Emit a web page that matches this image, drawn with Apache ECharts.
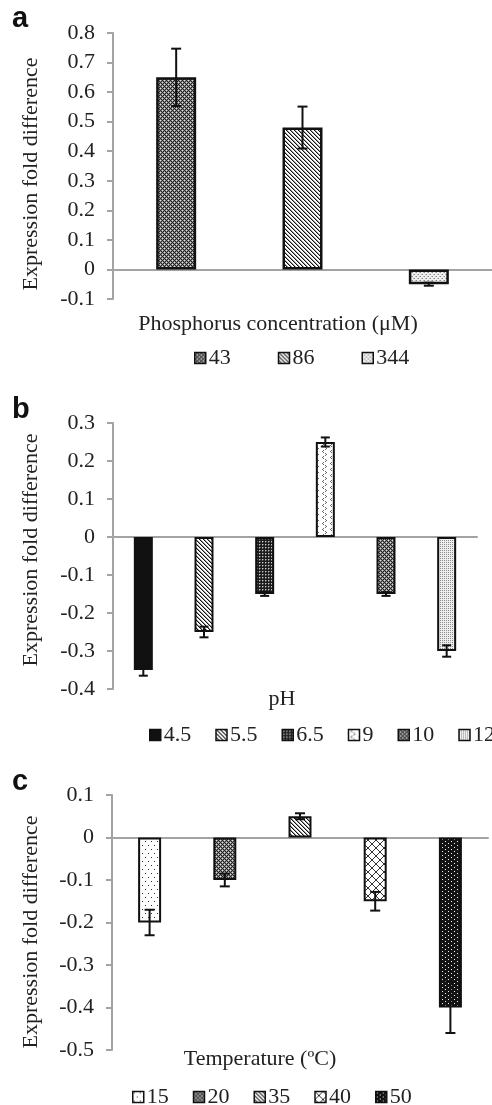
<!DOCTYPE html>
<html>
<head>
<meta charset="utf-8">
<script src="https://cdn.jsdelivr.net/npm/echarts@6/dist/echarts.min.js"></script>
<style>
  html, body { margin: 0; padding: 0; background: #fff; }
  #chart { width: 492px; height: 1105px; }
</style>
</head>
<body>
<div id="chart"></div>
<script>
// panel a: phosphorus
const phosCats = ['43', '86', '344'];
const phosVals = [0.65, 0.48, -0.05];
const phosErr = [0.097, 0.071, 0.005];
const phosTicks = { min: -0.1, max: 0.8, step: 0.1 };

// panel b: pH
const phCats = ['4.5', '5.5', '6.5', '9', '10', '12'];
const phVals = [-0.35, -0.25, -0.15, 0.25, -0.15, -0.30];
const phErr = [0.015, 0.014, 0.005, 0.012, 0.005, 0.015];
const phTicks = { min: -0.4, max: 0.3, step: 0.1 };

// panel c: temperature
const tempCats = ['15', '20', '35', '40', '50'];
const tempVals = [-0.2, -0.1, 0.05, -0.15, -0.4];
const tempErr = [0.03, 0.015, 0.007, 0.022, 0.06];
const tempTicks = { min: -0.5, max: 0.1, step: 0.1 };

const SERIF = '"Liberation Serif", "Times New Roman", serif';
const SANS = '"Liberation Sans", Arial, sans-serif';
const AXIS_GRAY = '#a3a3a3';
const TXT = '#222';

// little pixel patterns, like the excel fills
function pattern(w, h, bg, pts) {
  const c = document.createElement('canvas');
  c.width = w; c.height = h;
  const ctx = c.getContext('2d');
  ctx.fillStyle = bg;
  ctx.fillRect(0, 0, w, h);
  pts.forEach(([x, y, col]) => { ctx.fillStyle = col; ctx.fillRect(x, y, 1, 1); });
  return { image: c, repeat: 'repeat' };
}

const fills = {
  checker: pattern(4, 4, '#222', [
    [1, 0, '#888'], [3, 0, '#888'], [0, 1, '#888'], [2, 1, '#888'],
    [1, 2, '#888'], [3, 2, '#888'], [0, 3, '#888'], [2, 3, '#888'],
    [0, 0, '#ddd'], [2, 2, '#ddd']
  ]),
  diag: pattern(4, 4, '#fff', [
    [0, 0, '#111'], [1, 1, '#111'], [2, 2, '#111'], [3, 3, '#111'],
    [1, 0, '#999'], [2, 1, '#999'], [3, 2, '#999'], [0, 3, '#999']
  ]),
  lightDots: pattern(4, 4, '#eee', [[0, 0, '#888'], [2, 2, '#888'], [3, 0, '#bbb'], [1, 2, '#bbb']]),
  solid: '#111',
  darkGrid: pattern(3, 3, '#1c1c1c', [[1, 1, '#c8c8c8'], [2, 1, '#666'], [1, 2, '#666']]),
  zigzag: pattern(8, 6, '#fff', [[3, 0, '#666'], [2, 1, '#666'], [3, 2, '#666'], [5, 3, '#666'], [6, 4, '#666'], [5, 5, '#666']]),
  fineDots: pattern(2, 2, '#eeeeee', [[0, 0, '#8a8a8a']]),
  sparseDots: pattern(6, 8, '#fff', [[1, 1, '#333'], [4, 5, '#333']]),
  diamonds: (function () {
    const pts = [];
    for (let i = 0; i < 8; i++) { pts.push([i, i, '#333']); pts.push([7 - i, i, '#333']); }
    return pattern(8, 8, '#fff', pts);
  })(),
  blackDots: pattern(6, 4, '#141414', [[1, 1, '#eee'], [4, 3, '#eee']])
};

const phosFills = [fills.checker, fills.diag, fills.lightDots];
const phFills = [fills.solid, fills.diag, fills.darkGrid, fills.zigzag, fills.checker, fills.fineDots];
const tempFills = [fills.sparseDots, fills.checker, fills.diag, fills.diamonds, fills.blackDots];

const panels = [
  { cats: phosCats, vals: phosVals, err: phosErr, ticks: phosTicks, fills: phosFills,
    grid: { left: 113, top: 33, width: 390, height: 266 }, barW: 40, border: 2.5, cap: 10,
    legend: { left: 189, top: 342, itemGap: 47 } },
  { cats: phCats, vals: phVals, err: phErr, ticks: phTicks, fills: phFills,
    grid: { left: 113, top: 423, width: 364, height: 266 }, barW: 19, border: 2, cap: 9,
    legend: { left: 144, top: 719, itemGap: 24 } },
  { cats: tempCats, vals: tempVals, err: tempErr, ticks: tempTicks, fills: tempFills,
    grid: { left: 112, top: 795, width: 376, height: 255 }, barW: 23, border: 2, cap: 10,
    legend: { left: 127, top: 1081, itemGap: 24 } }
];

const grids = [], xAxes = [], yAxes = [], series = [], legends = [];

panels.forEach((p, k) => {
  grids.push(p.grid);
  xAxes.push({
    type: 'category', gridIndex: k, data: p.cats,
    axisLine: { lineStyle: { color: AXIS_GRAY, width: 2 } },
    axisTick: { show: false }, axisLabel: { show: false }
  });
  yAxes.push({
    type: 'value', gridIndex: k,
    min: p.ticks.min, max: p.ticks.max, interval: p.ticks.step,
    axisLine: { show: true, onZero: false, lineStyle: { color: AXIS_GRAY, width: 2 } },
    axisTick: { show: true, length: 6, lineStyle: { color: AXIS_GRAY, width: 2 } },
    splitLine: { show: false },
    axisLabel: {
      margin: 18, color: TXT, fontFamily: SERIF, fontSize: 22,
      formatter: v => String(Number(v.toFixed(1)))
    }
  });

  p.cats.forEach((name, i) => {
    series.push({
      name: name, type: 'bar', xAxisIndex: k, yAxisIndex: k,
      barWidth: p.barW, barGap: '-100%',
      data: p.cats.map((c, j) => (j === i ? p.vals[i] : '-')),
      itemStyle: { color: p.fills[i], borderColor: '#111', borderWidth: p.border },
      emphasis: { disabled: true }
    });
  });

  series.push({
    type: 'custom', xAxisIndex: k, yAxisIndex: k, z: 10,
    data: p.vals.map((v, i) => [i, v, p.err[i]]),
    renderItem: (params, api) => {
      const x = api.value(0), v = api.value(1), e = api.value(2);
      const hi = api.coord([x, v + e]);
      const lo = api.coord([x, v - e]);
      const half = p.cap / 2;
      const st = { stroke: '#111', lineWidth: 2 };
      return {
        type: 'group',
        children: [
          { type: 'line', shape: { x1: hi[0], y1: hi[1], x2: lo[0], y2: lo[1] }, style: st },
          { type: 'line', shape: { x1: hi[0] - half, y1: hi[1], x2: hi[0] + half, y2: hi[1] }, style: st },
          { type: 'line', shape: { x1: lo[0] - half, y1: lo[1], x2: lo[0] + half, y2: lo[1] }, style: st }
        ]
      };
    }
  });

  legends.push({
    data: p.cats, left: p.legend.left, top: p.legend.top, width: 800,
    orient: 'horizontal', itemGap: p.legend.itemGap,
    itemWidth: 11, itemHeight: 11, icon: 'rect',
    selectedMode: false,
    itemStyle: { borderColor: '#111', borderWidth: 1.5 },
    textStyle: { color: TXT, fontFamily: SERIF, fontSize: 22, padding: [0, 0, 0, -2] }
  });
});

// panel letters and axis titles
const labels = [
  { text: 'a', x: 12, y: 19 }, { text: 'b', x: 12, y: 410 }, { text: 'c', x: 12, y: 782 }
];
const xNames = [
  { text: 'Phosphorus concentration (\u03bcM)', x: 278, y: 324 },
  { text: 'pH', x: 282, y: 699 },
  { text: 'Temperature (\u00baC)', x: 260, y: 1059 }
];
const yNameY = [174, 550, 932];

const graphic = [];
labels.forEach(l => graphic.push({
  type: 'text', x: l.x, y: l.y,
  style: { text: l.text, font: 'bold 29px ' + SANS, fill: '#111', verticalAlign: 'middle' }
}));
xNames.forEach(n => graphic.push({
  type: 'text', x: n.x, y: n.y,
  style: { text: n.text, font: '22px ' + SERIF, fill: TXT, align: 'center', verticalAlign: 'middle' }
}));
yNameY.forEach(y => graphic.push({
  type: 'text', x: 31, y: y, rotation: Math.PI / 2,
  style: { text: 'Expression fold difference', font: '22px ' + SERIF, fill: TXT, align: 'center', verticalAlign: 'middle' }
}));

const chart = echarts.init(document.getElementById('chart'));
chart.setOption({
  animation: false,
  backgroundColor: '#fff',
  grid: grids,
  xAxis: xAxes,
  yAxis: yAxes,
  legend: legends,
  graphic: graphic,
  series: series
});
</script>
</body>
</html>
